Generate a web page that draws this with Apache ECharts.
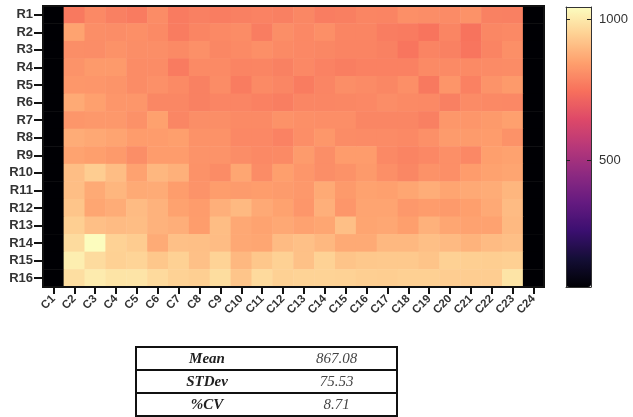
<!DOCTYPE html>
<html>
<head>
<meta charset="utf-8">
<script src="https://cdn.jsdelivr.net/npm/echarts@6/dist/echarts.min.js"></script>
<style>
  html, body { margin: 0; padding: 0; background: #fff; }
  #chart { position: absolute; left: 0; top: 0; width: 633px; height: 417px; }
  #stats {
    position: absolute; left: 135px; top: 346px; width: 263px;
    border-collapse: collapse; border: 2px solid #111;
    font-family: "Liberation Serif", "Times New Roman", serif; font-style: italic; font-size: 15px;
  }
  #stats td { border-top: 2px solid #111; border-bottom: 2px solid #111; height: 21px; padding: 0; text-align: center; line-height: 21px; }
  #stats td.lab { font-weight: bold; color: #222; width: 140px; }
  #stats td.val { color: #444; }
</style>
</head>
<body>
<div id="chart"></div>
<table id="stats"></table>
<script>
const rowLabels = ['R1','R2','R3','R4','R5','R6','R7','R8','R9','R10','R11','R12','R13','R14','R15','R16'];
const colLabels = ['C1','C2','C3','C4','C5','C6','C7','C8','C9','C10','C11','C12','C13','C14','C15','C16','C17','C18','C19','C20','C21','C22','C23','C24'];
// Values per row, C1..C24 (C1 and C24 are empty/black wells)
const heatValues = [
  [50,765,800,780,770,805,770,780,775,780,785,780,795,775,778,790,788,812,808,803,818,782,780,50],
  [50,855,810,808,812,802,772,790,800,805,775,810,798,812,790,790,773,770,755,790,752,795,800,50],
  [50,810,808,818,810,810,802,815,795,802,812,802,797,795,788,788,782,758,788,782,758,788,812,50],
  [50,820,835,835,805,805,770,802,802,788,790,782,797,785,777,783,783,783,802,802,802,803,805,50],
  [50,830,828,822,805,815,802,782,806,772,802,793,772,792,810,803,795,812,765,825,783,820,835,50],
  [50,868,848,828,828,795,795,782,792,792,783,776,793,793,796,798,808,802,800,780,803,800,797,50],
  [50,828,832,832,816,850,793,810,810,802,802,818,813,811,811,794,794,794,780,830,826,836,848,50],
  [50,872,864,856,840,840,845,818,818,798,798,785,811,829,805,803,803,800,815,838,838,840,818,50],
  [50,855,847,836,810,840,840,820,820,808,800,802,838,810,840,840,800,788,798,813,797,845,852,50],
  [50,910,942,908,853,895,882,818,805,860,806,847,828,810,818,836,813,795,818,813,840,852,858,50],
  [50,910,868,893,868,870,842,820,842,838,842,838,832,868,836,852,848,860,876,858,867,872,893,50],
  [50,925,860,873,905,885,852,840,880,900,867,852,828,880,828,857,857,832,840,836,847,867,905,50],
  [50,945,912,905,908,885,878,842,908,865,855,865,853,860,912,858,863,845,883,860,853,853,900,50],
  [50,972,1043,952,940,870,915,912,907,865,860,905,915,897,868,868,898,898,912,903,887,905,912,50],
  [50,1012,972,950,957,928,950,915,955,897,928,950,917,953,922,930,933,933,922,950,945,943,948,50],
  [50,978,1007,990,992,970,952,945,975,925,970,950,955,955,952,945,944,948,947,942,942,942,990,50]
];
const scaleMin = 50;
const scaleMax = 1045;
const scaleTicks = [500, 1000];
const statLabels = ['Mean', 'STDev', '%CV'];
const statValues = ['867.08', '75.53', '8.71'];

const magma = ['#000004','#140e36','#3b0f70','#641a80','#8c2981','#b73779','#de4968','#f7705c','#fe9f6d','#fecf92','#fcfdbf'];

const data = [];
heatValues.forEach((row, r) => row.forEach((v, c) => data.push([c, r, v])));

const chart = echarts.init(document.getElementById('chart'), null, { renderer: 'canvas' });
const labelFont = { fontFamily: 'Liberation Sans, Arial, sans-serif', fontWeight: 'bold', color: '#333' };

chart.setOption({
  animation: false,
  grid: [
    { left: 43, top: 6, width: 501, height: 281, show: true, borderColor: '#111', borderWidth: 2, backgroundColor: 'transparent', z: 5 },
    { left: 566, top: 7, width: 25, height: 280 }
  ],
  xAxis: [
    {
      gridIndex: 0, type: 'category', data: colLabels, position: 'bottom',
      axisLine: { show: true, lineStyle: { color: '#111', width: 2 } },
      axisTick: { show: true, alignWithLabel: true, length: 7, lineStyle: { color: '#111', width: 2 } },
      axisLabel: Object.assign({ interval: 0, rotate: 45, fontSize: 11.5, margin: 10 }, labelFont),
      splitLine: { show: false }
    },
    {
      gridIndex: 1, type: 'value', min: 0, max: 1, position: 'bottom', z: 10,
      axisLine: { show: true, onZero: false, lineStyle: { color: '#333', width: 1 } },
      axisTick: { show: false }, axisLabel: { show: false }, splitLine: { show: false }
    },
    {
      gridIndex: 1, type: 'value', min: 0, max: 1, position: 'top', z: 10,
      axisLine: { show: true, onZero: false, lineStyle: { color: '#333', width: 1 } },
      axisTick: { show: false }, axisLabel: { show: false }, splitLine: { show: false }
    }
  ],
  yAxis: [
    {
      gridIndex: 0, type: 'category', data: rowLabels, inverse: true,
      axisLine: { show: true, lineStyle: { color: '#111', width: 2 } },
      axisTick: { show: true, alignWithLabel: true, length: 9, lineStyle: { color: '#111', width: 2 } },
      axisLabel: Object.assign({ interval: 0, fontSize: 13, margin: 10 }, labelFont),
      splitLine: { show: false }
    },
    {
      gridIndex: 1, type: 'value', min: scaleMin, max: scaleMax, position: 'right', z: 10,
      axisLine: { show: true, onZero: false, lineStyle: { color: '#333', width: 1 } },
      axisTick: { show: true, inside: true, length: 4, customValues: scaleTicks, lineStyle: { color: '#222', width: 1 } },
      axisLabel: { show: true, customValues: scaleTicks, formatter: v => String(v), margin: 8, fontSize: 13, color: '#333', fontFamily: 'Liberation Sans, Arial, sans-serif' },
      splitLine: { show: false }
    },
    {
      gridIndex: 1, type: 'value', min: scaleMin, max: scaleMax, position: 'left', z: 10,
      axisLine: { show: true, onZero: false, lineStyle: { color: '#333', width: 1 } },
      axisTick: { show: true, inside: true, length: 4, customValues: scaleTicks, lineStyle: { color: '#222', width: 1 } },
      axisLabel: { show: false },
      splitLine: { show: false }
    }
  ],
  visualMap: {
    type: 'continuous', min: scaleMin, max: scaleMax, seriesIndex: 0,
    orient: 'vertical', left: 566, top: 7, itemWidth: 25, itemHeight: 280,
    padding: 0, calculable: false, showLabel: false, text: null, hoverLink: false,
    inRange: { color: magma }
  },
  series: [{
    type: 'heatmap', xAxisIndex: 0, yAxisIndex: 0, data: data,
    itemStyle: { borderWidth: 0 },
    emphasis: { disabled: true },
    progressive: 0
  }]
});

const table = document.getElementById('stats');
statLabels.forEach((lab, i) => {
  const tr = document.createElement('tr');
  const a = document.createElement('td'); a.className = 'lab'; a.textContent = lab;
  const b = document.createElement('td'); b.className = 'val'; b.textContent = statValues[i];
  tr.appendChild(a); tr.appendChild(b); table.appendChild(tr);
});
</script>
</body>
</html>
